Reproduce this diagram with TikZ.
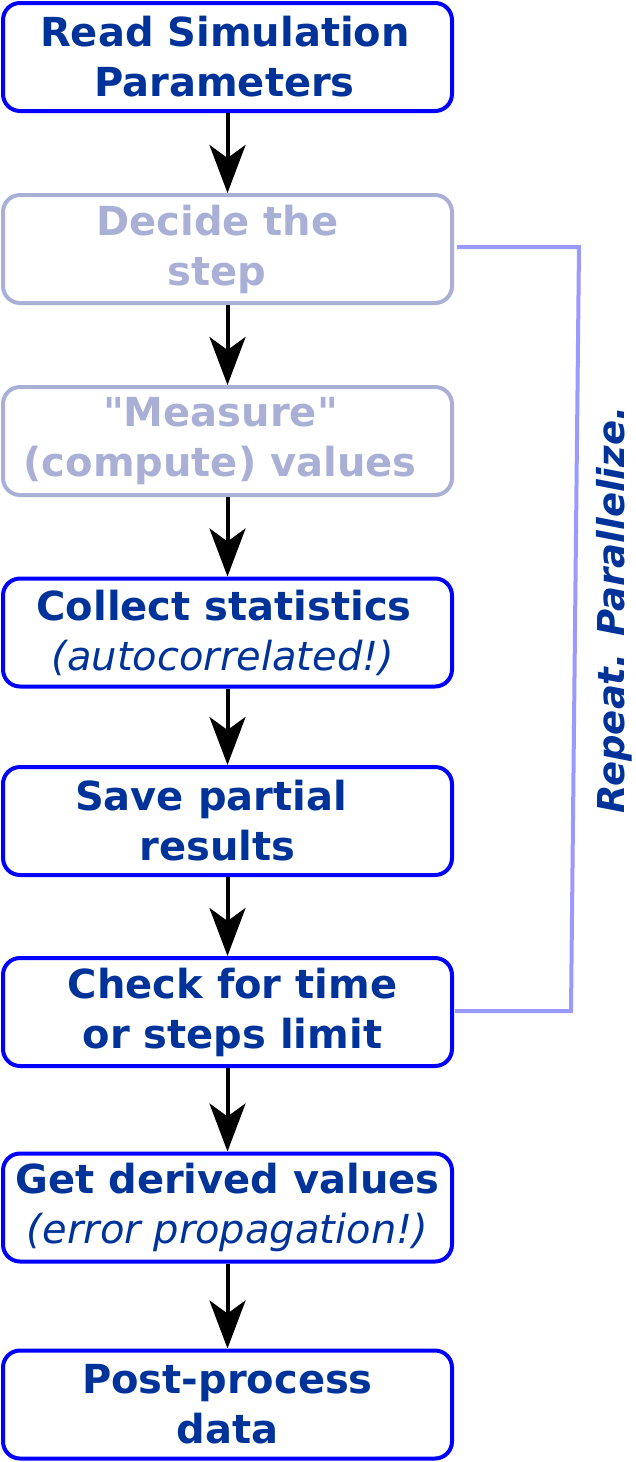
\documentclass[tikz,border=0pt]{standalone}
\usepackage{fontspec}
\newfontfamily\dvs{DejaVu Sans}
\usetikzlibrary{arrows.meta,calc}
\definecolor{txtblue}{HTML}{003399}
\definecolor{boxblue}{HTML}{0000FF}
\definecolor{faded}{HTML}{AAAFD6}
\definecolor{loopc}{HTML}{9999FF}
\tikzset{
  stepbox/.style={draw=boxblue, line width=4pt, rounded corners=17pt,
    minimum width=449pt, minimum height=108pt, inner sep=0pt,
    align=center, text=txtblue,
    font=\dvs\fontsize{40}{50}\selectfont\bfseries},
  fadedbox/.style={stepbox, draw=faded, text=faded},
  flow/.style={line width=4pt, -{Stealth[length=48pt,width=36pt,inset=13pt]}},
}
\newcommand{\ital}[1]{{\mdseries\itshape #1}}
\newcommand{\tr}[1]{\hspace*{#1pt}}
\begin{document}
\begin{tikzpicture}[x=1pt,y=-1pt]
\useasboundingbox (0,0) rectangle (635,1462);
\node[stepbox]  (b1) at (227.5,57)   {Read Simulation\tr{5}\\Parameters\tr{6}};
\node[fadedbox] (b2) at (227.5,249)  {Decide the\tr{20}\\step\tr{21}};
\node[fadedbox] (b3) at (227.5,441)  {"Measure"\tr{14}\\(compute) values\tr{15}};
\node[stepbox]  (b4) at (227.5,632.5){Collect statistics\tr{7}\\\ital{(autocorrelated!)}\tr{9}};
\node[stepbox]  (b5) at (227.5,821)  {Save partial\tr{33}\\results\tr{20}};
\node[stepbox]  (b6) at (227.5,1012) {\tr{10}Check for time\\\tr{10}or steps limit};
\node[stepbox]  (b7) at (227.5,1207.5){Get derived values\\\ital{(error propagation!)}};
\node[stepbox]  (b8) at (227.5,1404.5){Post-process\\data};
\foreach \a/\b in {b1/b2,b2/b3,b3/b4,b4/b5,b5/b6,b6/b7,b7/b8}
  \draw[flow] (\a.south) -- (\b.north);
\coordinate (l1) at (457,247);
\coordinate (l2) at (579,247);
\coordinate (l3) at (571,1011);
\coordinate (l4) at (455,1011);
\draw[loopc, line width=4pt] (l1) -- (l2) -- (l3) -- (l4);
\node[rotate=90, text=txtblue, font=\dvs\fontsize{37}{44}\selectfont\bfseries\itshape] (rep) at (614,610) {Repeat. Parallelize.};
\end{tikzpicture}
\end{document}
